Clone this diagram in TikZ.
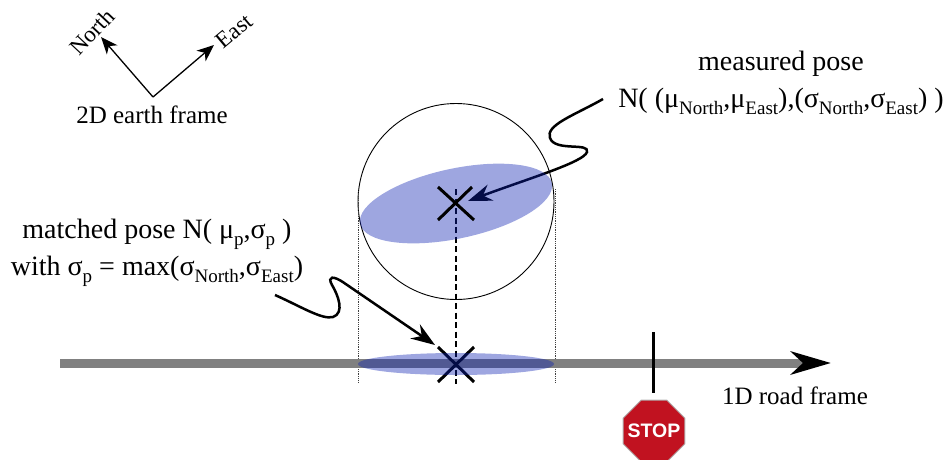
\documentclass[tikz,border=0pt]{standalone}
\usepackage{fontspec}
\setmainfont{Liberation Serif}
\newfontfamily\signfont{Liberation Sans}
\usepackage{xcolor}
\usetikzlibrary{arrows.meta,positioning,shapes.geometric}
\definecolor{poseblue}{RGB}{12,32,177}
\definecolor{stopred}{RGB}{193,18,32}
\newcommand{\lowtxt}[1]{\raisebox{-0.24em}{\fontsize{19}{19}\selectfont #1}}

\begin{document}
\begin{tikzpicture}[
  x=1pt, y=-1pt,
  biglbl/.style={inner sep=0pt, align=center, font=\fontsize{28}{37}\selectfont},
  framelbl/.style={inner sep=0pt, font=\fontsize{25}{30}\selectfont},
  axislbl/.style={inner sep=0pt, font=\fontsize{23}{27}\selectfont},
  axisarr/.style={-{Stealth[length=17pt,width=14pt,inset=5pt]}, line width=1.3pt},
  squig/.style={-{Stealth[length=24pt,width=17pt,inset=8pt]}, line width=2.5pt},
  guide/.style={densely dotted, line width=0.8pt, black!75},
  crossarm/.style={line width=3pt},
  spread/.style={fill=poseblue, fill opacity=0.4}
]
\useasboundingbox (0,0) rectangle (946,459);
\coordinate (origin) at (153,97);
\coordinate (northTip) at (101,37);
\coordinate (eastTip) at (214,45);
\coordinate (roadStart) at (60,363);
\coordinate (roadEnd) at (831,363);
\coordinate (measured) at (456,203);
\coordinate (matched) at (456,364);
\coordinate (tickTop) at (653,332);
\coordinate (tickEnd) at (653,393);
% earth frame
\draw[axisarr] (origin) -- (northTip);
\draw[axisarr] (origin) -- (eastTip);
\node[axislbl, rotate=47] (north) at (92,32) {North};
\node[axislbl, rotate=40] (east) at (234,31) {East};
\node[framelbl] (earth) at (152,115) {2D earth frame};
% labels
\node[biglbl] (measlbl) at (781,83) {measured pose\\N( (μ\lowtxt{North},μ\lowtxt{East}),(σ\lowtxt{North},σ\lowtxt{East}) )};
\node[biglbl] (matchlbl) at (157,253) {matched pose N( μ\lowtxt{p},σ\lowtxt{p} )\\with σ\lowtxt{p} = max(σ\lowtxt{North},σ\lowtxt{East})};
\node[framelbl] (roadlbl) at (795,396) {1D road frame};
% below the ellipses
\draw[line width=0.9pt] (456,201.5) circle[radius=98];
\draw[guide] (358,189) -- (358,382);
\draw[guide] (555,189) -- (555,382);
\draw[line width=2.5pt, dash pattern=on 6pt off 3.5pt] (456,189) -- (456,384);
\coordinate (measStart) at (603,99);
\coordinate (measTip) at (468,201);
\coordinate (matchStart) at (275,295);
\coordinate (matchTip) at (435,345);
\draw[squig] (measStart) .. controls (575,115) and (545,125) .. (550,138)
  .. controls (555,152) and (590,142) .. (587,152)
  .. controls (584,162) and (530,178) .. (measTip);
\draw[squig] (matchStart) .. controls (300,306) and (322,320) .. (333,317)
  .. controls (345,313) and (338,295) .. (332,285)
  .. controls (327,276) and (333,275) .. (345,283.5) -- (matchTip);
\draw[line width=9pt, -{Stealth[color=black,length=40pt,width=23pt,inset=12pt]}, black!50] (roadStart) -- (roadEnd);
\draw[crossarm] (438,347) -- (474,382);
\draw[crossarm] (438,382) -- (474,347);
% spreads
\fill[spread] (456,203.5) ellipse[x radius=98, y radius=35, rotate=12];
\fill[spread] (matched) ellipse[x radius=98, y radius=11];
\draw[crossarm] (438,187) -- (474,220);
\draw[crossarm] (438,220) -- (472,187);
% stop sign
\draw[line width=3pt] (tickTop) -- (tickEnd);
\node[regular polygon, regular polygon sides=8, minimum size=67pt, inner sep=0pt, fill=stopred, draw=black!30, line width=1pt] (stop) at (654,431) {};
\node[inner sep=0pt, text=white, font=\signfont\bfseries\fontsize{19.5}{22}\selectfont] (stoptxt) at (stop.center) {STOP};
\end{tikzpicture}
\end{document}
